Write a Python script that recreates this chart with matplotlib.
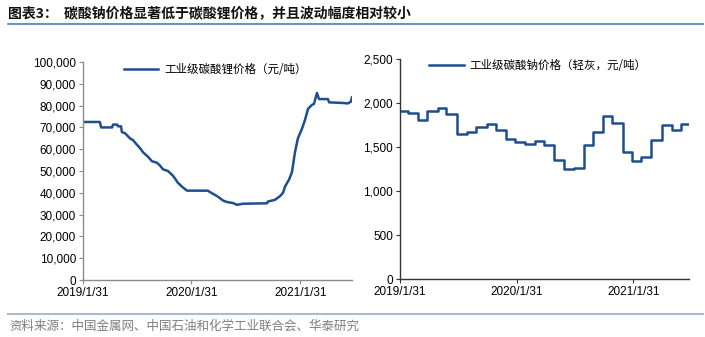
import matplotlib
matplotlib.use("Agg")
import matplotlib.pyplot as plt
from matplotlib.lines import Line2D
from matplotlib.ticker import FuncFormatter, MultipleLocator
import pandas as pd

plt.rcParams['font.family'] = ['Liberation Sans', 'Noto Sans CJK SC', 'DejaVu Sans']

# 工业级碳酸锂价格 (元/吨)
li_dates = ['2019-01-31', '2019-03-29', '2019-04-02', '2019-05-09', '2019-05-12',
            '2019-05-26', '2019-05-29', '2019-06-08', '2019-06-11', '2019-06-21',
            '2019-07-08', '2019-07-18', '2019-08-01', '2019-08-11', '2019-08-21',
            '2019-09-07', '2019-09-20', '2019-10-07', '2019-10-17', '2019-10-27',
            '2019-11-13', '2019-11-30', '2019-12-17', '2020-01-02', '2020-01-16',
            '2020-03-26', '2020-04-09', '2020-04-26', '2020-05-16', '2020-05-29',
            '2020-06-19', '2020-07-02', '2020-07-22', '2020-10-11', '2020-10-14',
            '2020-11-07', '2020-11-24', '2020-12-04', '2020-12-11', '2020-12-24',
            '2021-01-03', '2021-01-13', '2021-01-23', '2021-02-06', '2021-02-16',
            '2021-02-26', '2021-03-11', '2021-03-18', '2021-03-28', '2021-04-04',
            '2021-05-04', '2021-05-08', '2021-06-24', '2021-07-10', '2021-07-20',
            '2021-07-24']
li_price = [72500, 72500, 70000, 70000, 71300,
            71300, 70500, 70500, 67800, 67400,
            65000, 64200, 62000, 60500, 58600,
            56500, 54500, 53800, 52500, 50800,
            50000, 47800, 44500, 42500, 41000,
            41000, 39800, 38500, 36500, 35800,
            35300, 34500, 35000, 35200, 36000,
            36800, 38500, 40000, 43000, 46000,
            49500, 58500, 65000, 69500, 73500,
            78500, 80300, 80800, 85800, 83000,
            83000, 81500, 81200, 81000, 81800,
            83800]

# 工业级碳酸钠价格 (轻灰, 元/吨), 月度
na_dates = ['2019-01-31', '2019-02-26', '2019-03-27', '2019-04-24', '2019-05-29',
            '2019-06-24', '2019-07-27', '2019-08-30', '2019-09-26', '2019-10-29',
            '2019-11-29', '2019-12-29', '2020-01-26', '2020-02-26', '2020-03-28',
            '2020-04-26', '2020-05-27', '2020-06-28', '2020-07-29', '2020-08-29',
            '2020-09-27', '2020-10-28', '2020-11-26', '2020-12-28', '2021-01-27',
            '2021-02-25', '2021-03-28', '2021-04-29', '2021-05-30', '2021-06-30',
            '2021-07-24']
na_price = [1910, 1890, 1810, 1910, 1940,
            1880, 1650, 1670, 1730, 1760,
            1700, 1590, 1560, 1540, 1570,
            1520, 1350, 1250, 1260, 1520,
            1670, 1850, 1780, 1450, 1340,
            1390, 1580, 1750, 1690, 1760,
            1760]

tick_dates = ['2019-01-31', '2020-01-31', '2021-01-31']
tick_labels = ['2019/1/31', '2020/1/31', '2021/1/31']

line_color = '#1f4e8f'
x_start = pd.Timestamp('2019-01-31')
x_end = pd.Timestamp('2021-07-24')

fig = plt.figure(figsize=(7.05, 3.37), dpi=100)

ax1 = fig.add_axes([0.1177, 0.169, 0.3816, 0.647])
ax2 = fig.add_axes([0.5674, 0.171, 0.41, 0.6537])

comma = FuncFormatter(lambda v, p: f'{int(v):,}')


def style_axis(ax, spine_color):
    for s in ['top', 'right']:
        ax.spines[s].set_visible(False)
    for s in ['left', 'bottom']:
        ax.spines[s].set_color(spine_color)
        ax.spines[s].set_linewidth(1.0)
    ax.set_xlim(x_start, x_end)
    ax.set_xticks(pd.to_datetime(tick_dates))
    ax.set_xticklabels(tick_labels)
    ax.tick_params(axis='both', labelsize=8.5, length=3, width=0.8,
                   color=spine_color, labelcolor='#000000', pad=2)
    ax.yaxis.set_major_formatter(comma)


ax1.plot(pd.to_datetime(li_dates), li_price, color=line_color, lw=1.8,
         label='工业级碳酸锂价格（元/吨）')
ax1.set_ylim(0, 100000)
ax1.yaxis.set_major_locator(MultipleLocator(10000))
style_axis(ax1, '#8c8c8c')

ax2.plot(pd.to_datetime(na_dates), na_price, color=line_color, lw=1.8,
         drawstyle='steps-post', label='工业级碳酸钠价格（轻灰，元/吨）')
ax2.set_ylim(0, 2500)
ax2.yaxis.set_major_locator(MultipleLocator(500))
style_axis(ax2, '#333333')

for ax, anchor in [(ax1, (0.135, 1.015)), (ax2, (0.085, 1.02))]:
    leg = ax.legend(loc='upper left', bbox_to_anchor=anchor, frameon=False,
                    handlelength=3.0, handletextpad=0.5, borderaxespad=0,
                    prop={'family': ['Noto Sans CJK SC'], 'size': 8.3})

# 标题与分隔线
fig.text(0.012, 0.962, '图表3：  碳酸钠价格显著低于碳酸锂价格，并且波动幅度相对较小',
         fontsize=10, fontweight='bold', family=['Noto Sans CJK SC'],
         va='center', ha='left', color='#111111')
fig.add_artist(Line2D([0.011, 0.997], [0.928, 0.928], color='#4f7bb5', lw=1.2))
fig.add_artist(Line2D([0.011, 0.997], [0.068, 0.068], color='#a9bad3', lw=1.5))
fig.text(0.014, 0.033, '资料来源：中国金属网、中国石油和化学工业联合会、华泰研究',
         fontsize=9, family=['Noto Sans CJK SC'], va='center', ha='left',
         color='#7f7f7f')

fig.savefig('out.png', dpi=100)
